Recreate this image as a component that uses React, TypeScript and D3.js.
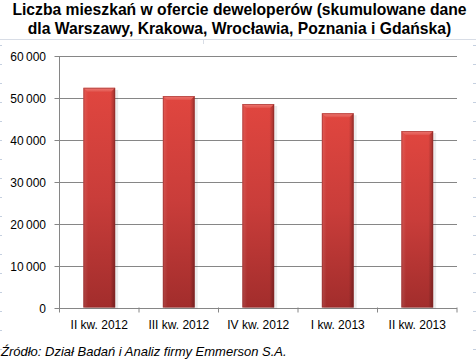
import React from "react";
import * as d3 from "d3";

const categories = ["II kw. 2012", "III kw. 2012", "IV kw. 2012", "I kw. 2013", "II kw. 2013"];
const values = [52400, 50450, 48550, 46350, 42100];
const yTicks = [0, 10000, 20000, 30000, 40000, 50000, 60000];
const titleLines = [
  "Liczba mieszkań w ofercie deweloperów (skumulowane dane",
  "dla Warszawy, Krakowa, Wrocławia, Poznania i Gdańska)",
];
const sourceText = "Źródło: Dział Badań i Analiz firmy Emmerson S.A.";

const W = 476;
const H = 360;
const left = 59.5;
const right = 457;
const top = 56;
const bottom = 307.5;

export default function App() {
  const x = d3.scaleBand<string>().domain(categories).range([left, right]).paddingInner(0.6).paddingOuter(0.3);
  const xb = d3.scaleBand<string>().domain(categories).range([left, right]);
  const y = d3.scaleLinear().domain([0, 60000]).range([bottom, top]);
  const fmt = (v: number) => d3.format(",")(v).replace(/,/g, "\u2009");
  const bw = x.bandwidth();
  const spreadLines = d3.range(0, 19).map((i) => 45 + i * 19);

  return (
    <svg width={W} height={H} style={{ position: "absolute", left: 0, top: 0, background: "#fff" }}>
      <defs>
        <linearGradient id="gv" x1="0" y1="0" x2="0" y2="1">
          <stop offset="0" stopColor="#e0463f" />
          <stop offset="0.5" stopColor="#c93d3a" />
          <stop offset="1" stopColor="#a22d2c" />
        </linearGradient>
        <linearGradient id="gh" x1="0" y1="0" x2="1" y2="0">
          <stop offset="0" stopColor="#ffffff" stopOpacity="0.12" />
          <stop offset="0.15" stopColor="#ffffff" stopOpacity="0" />
          <stop offset="0.85" stopColor="#000000" stopOpacity="0" />
          <stop offset="1" stopColor="#000000" stopOpacity="0.3" />
        </linearGradient>
        <linearGradient id="gtop" x1="0" y1="0" x2="0" y2="1">
          <stop offset="0" stopColor="#f07a74" />
          <stop offset="1" stopColor="#e0534c" />
        </linearGradient>
      </defs>
      {/* spreadsheet cell hints */}
      <line x1={0} x2={W} y1={39.5} y2={39.5} stroke="#d8dde6" />
      <line x1={203.5} x2={203.5} y1={39} y2={44} stroke="#d8dde6" />
      {spreadLines.map((yy) => (
        <g key={yy}>
          <line x1={473} x2={476} y1={yy + 0.5} y2={yy + 0.5} stroke="#c5d0e0" />
          <line x1={0} x2={2} y1={yy + 0.5} y2={yy + 0.5} stroke="#c5d0e0" />
        </g>
      ))}
      {titleLines.map((t, i) => (
        <text
          key={i}
          x={239.5}
          y={15 + i * 19}
          textAnchor="middle"
          fontFamily="Liberation Sans, Arial, sans-serif"
          fontWeight="bold"
          fontSize={15.7}
          fill="#000"
        >
          {t}
        </text>
      ))}
      {/* gridlines */}
      {yTicks.map((t) => (
        <g key={t}>
          <line x1={left - 5} x2={right} y1={Math.round(y(t)) + 0.5} y2={Math.round(y(t)) + 0.5} stroke="#868686" />
          <text
            x={46}
            y={Math.round(y(t)) + 4.5}
            textAnchor="end"
            fontFamily="Liberation Sans, Arial, sans-serif"
            fontSize={12}
            fill="#000"
          >
            {fmt(t)}
          </text>
        </g>
      ))}
      <line x1={left} x2={left} y1={top} y2={bottom + 5} stroke="#868686" />
      {categories.map((c) => (
        <line key={"t" + c} x1={(xb(c) as number) + xb.bandwidth()} x2={(xb(c) as number) + xb.bandwidth()} y1={bottom} y2={bottom + 5} stroke="#868686" />
      ))}
      {/* bars */}
      {categories.map((c, i) => {
        const bx = x(c) as number;
        const by = y(values[i]);
        const bh = bottom - by;
        return (
          <g key={c}>
            <rect x={bx + 2} y={by + 2} width={bw + 1} height={bh - 1} fill="#000" opacity={0.08} />
            <rect x={bx} y={by} width={bw} height={bh} fill="url(#gv)" />
            <rect x={bx} y={by} width={bw} height={bh} fill="url(#gh)" />
            <path
              d={`M${bx},${by} L${bx + bw},${by} L${bx + bw - 4},${by + 4} L${bx + 4},${by + 4} Z`}
              fill="url(#gtop)"
            />
            <rect x={bx + 0.5} y={by + 0.5} width={bw - 1} height={bh - 1} fill="none" stroke="#8e2a28" strokeOpacity={0.5} />
          </g>
        );
      })}
      {categories.map((c) => (
        <text
          key={"l" + c}
          x={(xb(c) as number) + xb.bandwidth() / 2}
          y={329}
          textAnchor="middle"
          fontFamily="Liberation Sans, Arial, sans-serif"
          fontSize={12}
          fill="#000"
        >
          {c}
        </text>
      ))}
      <text x={1} y={356} fontFamily="Liberation Sans, Arial, sans-serif" fontStyle="italic" fontSize={13} fill="#000">
        {sourceText}
      </text>
    </svg>
  );
}
